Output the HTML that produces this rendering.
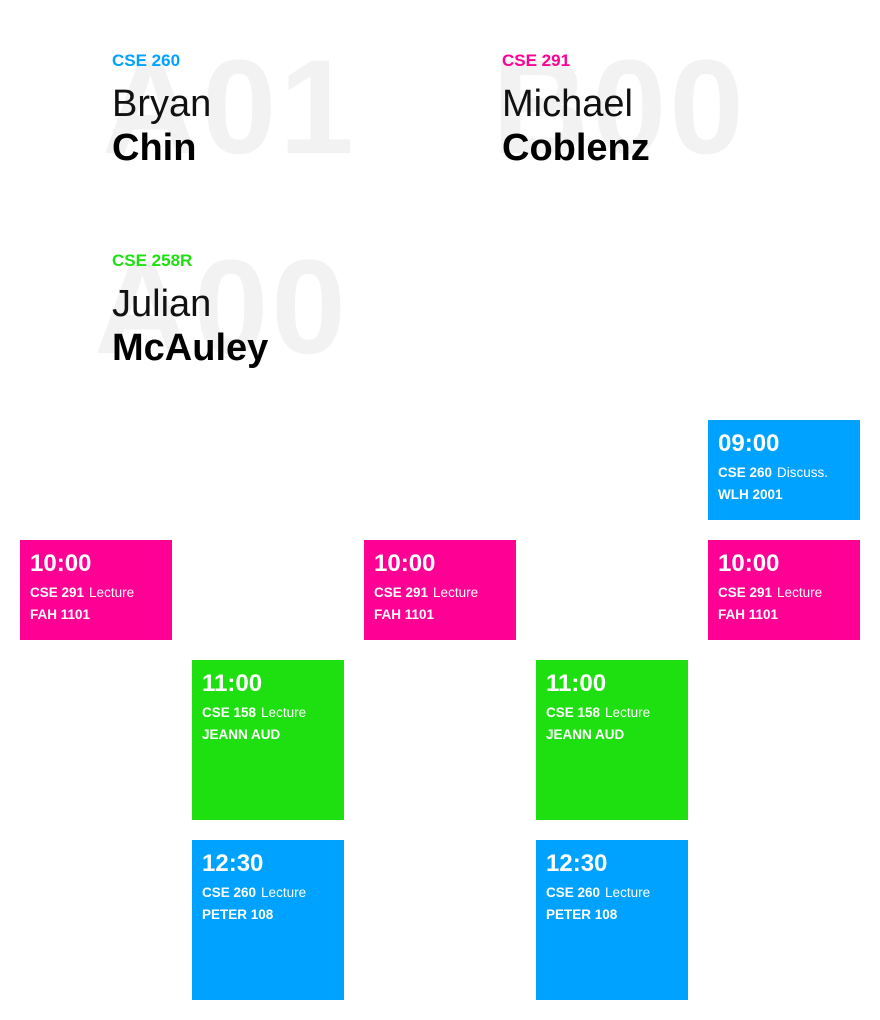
<!DOCTYPE html>
<html><head><meta charset="utf-8"><style>
body{margin:0;width:880px;height:1020px;background:#fff;position:relative;overflow:hidden;font-family:"Liberation Sans",sans-serif}
.h{position:absolute;width:380px;height:140px}
.wm{position:absolute;font-weight:bold;font-size:134px;color:#f2f2f2;line-height:1;letter-spacing:3px}
.code{position:absolute;left:0;top:11px;font-weight:bold;font-size:17px}
.fn{position:absolute;left:0;top:45px;font-size:38px;color:#111;line-height:1}
.ln{position:absolute;left:0;top:89px;font-size:38px;font-weight:bold;color:#000;line-height:1}
.b{position:absolute;width:152px;color:#fff}
.t{position:absolute;left:10px;top:10px;font-weight:bold;font-size:24px;line-height:28px}
.c{position:absolute;left:10px;top:45px;font-size:13.5px;white-space:nowrap}
.c b{margin-right:5px}
.r{position:absolute;left:10px;top:67px;font-size:13.5px;font-weight:bold}
.bl{background:#00a2ff}.pk{background:#ff0094}.gr{background:#1ee010}
</style></head><body>
<div class="h" style="left:112px;top:40px"><div class="wm" style="left:-10px;top:1px">A01</div><div class="code" style="color:#00a2ff">CSE 260</div><div class="fn">Bryan</div><div class="ln">Chin</div></div>
<div class="h" style="left:502px;top:40px"><div class="wm" style="left:-10px;top:1px">B00</div><div class="code" style="color:#ff0094">CSE 291</div><div class="fn">Michael</div><div class="ln">Coblenz</div></div>
<div class="h" style="left:112px;top:240px"><div class="wm" style="left:-18px;top:1px">A00</div><div class="code" style="color:#1ee010">CSE 258R</div><div class="fn">Julian</div><div class="ln">McAuley</div></div>

<div class="b bl" style="left:708px;top:420px;height:100px"><div class="t">09:00</div><div class="c"><b>CSE 260</b>Discuss.</div><div class="r">WLH 2001</div></div>

<div class="b pk" style="left:20px;top:540px;height:100px"><div class="t">10:00</div><div class="c"><b>CSE 291</b>Lecture</div><div class="r">FAH 1101</div></div>
<div class="b pk" style="left:364px;top:540px;height:100px"><div class="t">10:00</div><div class="c"><b>CSE 291</b>Lecture</div><div class="r">FAH 1101</div></div>
<div class="b pk" style="left:708px;top:540px;height:100px"><div class="t">10:00</div><div class="c"><b>CSE 291</b>Lecture</div><div class="r">FAH 1101</div></div>

<div class="b gr" style="left:192px;top:660px;height:160px"><div class="t">11:00</div><div class="c"><b>CSE 158</b>Lecture</div><div class="r">JEANN AUD</div></div>
<div class="b gr" style="left:536px;top:660px;height:160px"><div class="t">11:00</div><div class="c"><b>CSE 158</b>Lecture</div><div class="r">JEANN AUD</div></div>

<div class="b bl" style="left:192px;top:840px;height:160px"><div class="t">12:30</div><div class="c"><b>CSE 260</b>Lecture</div><div class="r">PETER 108</div></div>
<div class="b bl" style="left:536px;top:840px;height:160px"><div class="t">12:30</div><div class="c"><b>CSE 260</b>Lecture</div><div class="r">PETER 108</div></div>
</body></html>
